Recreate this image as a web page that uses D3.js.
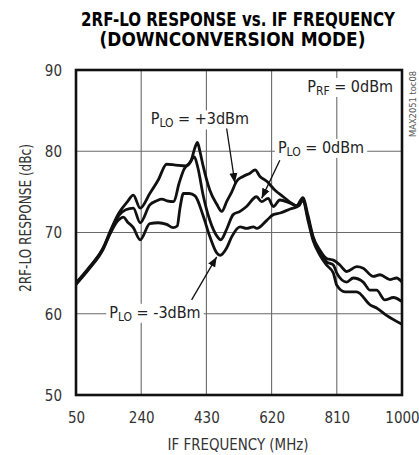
<!DOCTYPE html>
<html>
<head>
<meta charset="utf-8">
<script src="https://cdn.jsdelivr.net/npm/d3@7"></script>
<style>
body { margin: 0; background: #fff; }
svg { display: block; }
text { font-family: "Liberation Sans Narrow", "DejaVu Sans Condensed", "Roboto", sans-serif; }
</style>
</head>
<body>
<svg id="chart" width="419" height="455"></svg>
<script>
// x ticks (MHz) and y ticks (dBc)
var freqTicks = [50, 240, 430, 620, 810, 1000];
var respTicks = [50, 60, 70, 80, 90];

// PLO = +3dBm
var plo3 = [
	[50, 63.8], [90, 65.8], [130, 68.2], [150, 70.2], [175, 72.4], [200, 73.8],
	[217, 74.6], [237, 73.0], [265, 74.8], [290, 76.5], [314, 78.4], [340, 78.3],
	[370, 78.2], [385, 78.8], [397, 80.5], [404, 81.1], [411, 80.0], [421, 78.1],
	[440, 75.2], [460, 73.5], [475, 72.6], [489, 73.8], [504, 75.0], [518, 76.3],
	[537, 76.9], [557, 77.3], [572, 77.7], [586, 76.9], [606, 76.3], [630, 75.2],
	[654, 74.4], [678, 73.6], [693, 73.3], [711, 74.3], [726, 72.1], [741, 69.5],
	[761, 67.8], [780, 66.8], [800, 66.6], [819, 66.0], [839, 65.2], [868, 65.8],
	[887, 65.6], [916, 64.6], [936, 64.8], [965, 64.2], [984, 64.4], [1000, 63.9]
];

// PLO = 0dBm
var plo0 = [
	[50, 63.7], [90, 65.7], [130, 68.1], [150, 70.0], [175, 72.1], [195, 72.8],
	[217, 73.0], [237, 71.2], [265, 73.4], [285, 73.9], [300, 74.1], [315, 73.9],
	[335, 73.8], [350, 76.0], [365, 77.8], [380, 78.5], [395, 79.3], [405, 78.0],
	[421, 74.5], [440, 71.5], [460, 69.6], [472, 69.1], [489, 70.4], [508, 72.2],
	[528, 72.6], [547, 73.2], [576, 74.4], [591, 73.8], [610, 74.2], [625, 73.2],
	[644, 74.0], [674, 73.6], [693, 73.3], [711, 74.1], [726, 71.8], [741, 69.3],
	[761, 67.6], [780, 66.4], [800, 66.0], [810, 65.0], [839, 63.9], [858, 64.4],
	[887, 63.9], [907, 62.9], [926, 62.9], [950, 61.7], [975, 62.0], [1000, 61.5]
];

// PLO = -3dBm
var ploM3 = [
	[50, 63.6], [90, 65.6], [130, 68.0], [150, 69.9], [173, 71.5], [188, 71.9],
	[200, 71.3], [217, 70.6], [237, 69.1], [265, 71.1], [290, 71.2], [314, 71.0],
	[333, 70.6], [345, 70.8], [353, 73.0], [363, 74.8], [380, 74.8], [397, 74.5],
	[421, 72.0], [440, 69.5], [460, 67.5], [470, 67.2], [489, 68.1], [504, 69.5],
	[528, 70.7], [547, 70.5], [567, 70.7], [577, 70.5], [606, 71.5], [625, 72.2],
	[645, 72.4], [674, 72.9], [700, 73.3], [711, 74.0], [726, 71.5], [741, 69.0],
	[761, 67.2], [780, 66.0], [800, 65.0], [810, 63.5], [834, 62.7], [868, 62.7],
	[907, 61.1], [926, 60.7], [955, 59.8], [1000, 58.7]
];

var svg = d3.select("#chart");
var plotL = 76, plotR = 402, plotT = 70, plotB = 395;

var xScale = d3.scaleLinear().domain([50, 1000]).range([plotL, plotR]);
var yScale = d3.scaleLinear().domain([50, 90]).range([plotB, plotT]);

// title, squeezed horizontally to the condensed look of the original
function squeezed(str, cx, y, width, size){
	var g = svg.append("g");
	var t = g.append("text").attr("text-anchor", "middle")
		.attr("font-weight", "bold").attr("font-size", size).text(str);
	var k = Math.min(1, width / t.node().getComputedTextLength());
	g.attr("transform", "translate(" + cx + "," + y + ") scale(" + k + ",1)");
}
squeezed("2RF-LO RESPONSE vs. IF FREQUENCY", 238, 26, 314, 19.5);
squeezed("(DOWNCONVERSION MODE)", 232.5, 46, 266, 19.5);

// grid
var grid = svg.append("g").attr("stroke", "#6a6a6a").attr("stroke-width", 1.1);
grid.selectAll("line.v").data(freqTicks.slice(1, -1)).enter().append("line")
	.attr("x1", function(d){ return xScale(d); }).attr("x2", function(d){ return xScale(d); })
	.attr("y1", plotT).attr("y2", plotB);
grid.selectAll("line.h").data(respTicks.slice(1, -1)).enter().append("line")
	.attr("x1", plotL).attr("x2", plotR)
	.attr("y1", function(d){ return yScale(d); }).attr("y2", function(d){ return yScale(d); });

// axes (labels only, frame drawn separately)
var xAxis = d3.axisBottom(xScale).tickValues(freqTicks).tickSize(0).tickPadding(17).tickFormat(d3.format("d"));
var yAxis = d3.axisLeft(yScale).tickValues(respTicks).tickSize(0).tickPadding(14).tickFormat(d3.format("d"));
var gx = svg.append("g").attr("transform", "translate(0," + plotB + ")").call(xAxis);
var gy = svg.append("g").attr("transform", "translate(" + plotL + ",0)").call(yAxis);
[gx, gy].forEach(function(g){
	g.select(".domain").remove();
	g.selectAll("text").attr("font-size", 15).attr("fill", "#333")
		.attr("font-family", "Liberation Sans Narrow, DejaVu Sans Condensed, sans-serif");
});
gy.selectAll("text").attr("dy", "0.36em");

svg.append("text").attr("x", 238).attr("y", 450)
	.attr("text-anchor", "middle").attr("font-size", 15).attr("fill", "#333")
	.attr("textLength", 141).attr("lengthAdjust", "spacingAndGlyphs")
	.text("IF FREQUENCY (MHz)");
svg.append("text").attr("transform", "translate(31,218) rotate(-90)")
	.attr("text-anchor", "middle").attr("font-size", 15).attr("fill", "#333")
	.attr("textLength", 148).attr("lengthAdjust", "spacingAndGlyphs")
	.text("2RF-LO RESPONSE (dBc)");

svg.append("text").attr("transform", "translate(416,104) rotate(-90)")
	.attr("text-anchor", "middle").attr("font-size", 9).attr("fill", "#555")
	.attr("textLength", 66).attr("lengthAdjust", "spacingAndGlyphs")
	.text("MAX2051 toc08");

// curves
var line = d3.line()
	.x(function(d){ return xScale(d[0]); })
	.y(function(d){ return yScale(d[1]); })
	.curve(d3.curveMonotoneX);
svg.selectAll("path.curve").data([plo3, plo0, ploM3]).enter().append("path")
	.attr("class", "curve")
	.attr("d", line).attr("fill", "none").attr("stroke", "#111")
	.attr("stroke-width", 2.8).attr("stroke-linejoin", "round");

// labels with white boxes
var labels = [
	{pre: "P", sub: "LO", post: " = +3dBm", f: 411, v: 83.3, anchor: "middle"},
	{pre: "P", sub: "LO", post: " = 0dBm", f: 764, v: 79.8, anchor: "middle"},
	{pre: "P", sub: "LO", post: " = -3dBm", f: 280, v: 59.5, anchor: "middle"},
	{pre: "P", sub: "RF", post: " = 0dBm", f: 974, v: 87.3, anchor: "end"}
];
labels.forEach(function(l){
	var g = svg.append("g");
	var t = g.append("text").attr("x", xScale(l.f)).attr("y", yScale(l.v))
		.attr("text-anchor", l.anchor).attr("font-size", 16).attr("fill", "#222");
	t.append("tspan").text(l.pre);
	t.append("tspan").attr("font-size", 12).attr("dy", 3).text(l.sub);
	t.append("tspan").attr("dy", -3).text(l.post);
	var bb = t.node().getBBox();
	g.insert("rect", "text").attr("x", bb.x - 3).attr("y", bb.y + 1)
		.attr("width", bb.width + 6).attr("height", bb.height - 2).attr("fill", "#fff");
});

// arrows
svg.append("defs").append("marker").attr("id", "head")
	.attr("viewBox", "0 0 10 10").attr("refX", 10).attr("refY", 5)
	.attr("markerWidth", 10).attr("markerHeight", 10).attr("markerUnits", "userSpaceOnUse")
	.attr("orient", "auto")
	.append("path").attr("d", "M0,1 L10,5 L0,9 Z").attr("fill", "#111");
var arrows = [
	{f1: 489, v1: 82.8, f2: 513, v2: 76.1},
	{f1: 644, v1: 78.9, f2: 591, v2: 74.2},
	{f1: 387, v1: 61.7, f2: 460, v2: 67.0}
];
svg.selectAll("line.arrow").data(arrows).enter().append("line")
	.attr("x1", function(d){ return xScale(d.f1); }).attr("y1", function(d){ return yScale(d.v1); })
	.attr("x2", function(d){ return xScale(d.f2); }).attr("y2", function(d){ return yScale(d.v2); })
	.attr("stroke", "#111").attr("stroke-width", 1.3).attr("marker-end", "url(#head)");

// frame
svg.append("rect").attr("x", plotL).attr("y", plotT)
	.attr("width", plotR - plotL).attr("height", plotB - plotT)
	.attr("fill", "none").attr("stroke", "#111").attr("stroke-width", 2.6);
</script>
</body>
</html>
